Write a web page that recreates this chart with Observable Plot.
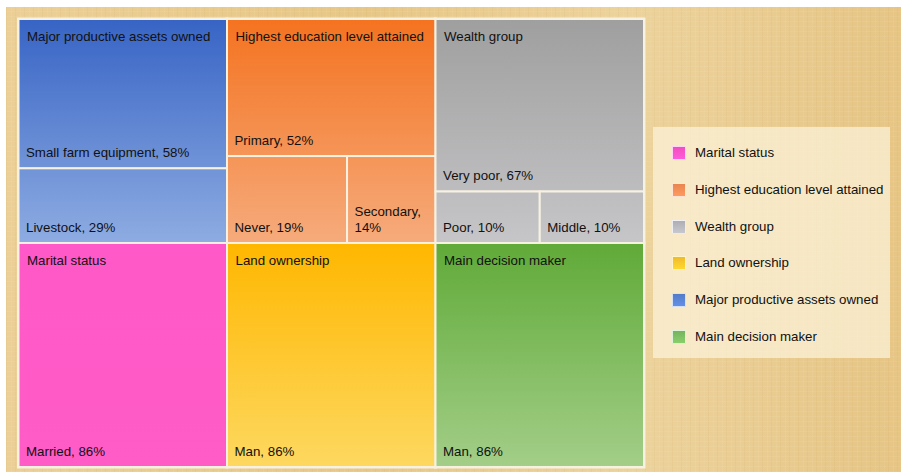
<!DOCTYPE html>
<html>
<head>
<meta charset="utf-8">
<script src="https://cdn.jsdelivr.net/npm/d3@7"></script>
<script src="https://cdn.jsdelivr.net/npm/@observablehq/plot@0.6"></script>
<style>
  html, body { margin: 0; padding: 0; background: #ffffff; }
  body { width: 901px; height: 473px; position: relative; overflow: hidden; font-family: "Liberation Sans", Arial, Helvetica, sans-serif; }
  #paper {
    position: absolute; left: 6px; top: 7px; width: 895px; height: 465px;
    background:
      repeating-linear-gradient(90deg, rgba(190,145,60,0.07) 0 1px, transparent 1px 5px, rgba(255,245,215,0.07) 5px 6px, transparent 6px 9px),
      repeating-linear-gradient(0deg, rgba(255,245,215,0.08) 0 1px, transparent 1px 5px),
      linear-gradient(90deg, #ebcf96, #e7c787 40%, #ecd29c 70%, #e6c585);
  }
  #chart { position: absolute; left: 0; top: 0; }
  #legend {
    position: absolute; left: 653px; top: 127px; width: 237px; height: 231px;
    background: rgba(252,242,218,0.72); box-sizing: border-box;
  }
  .item { position: absolute; left: 19px; height: 14px; font-size: 13.3px; color: #111; white-space: nowrap; }
  .sw { position: absolute; left: 0; top: 0; width: 12px; height: 12px; border: 1px solid rgba(255,255,255,0.75); box-sizing: content-box; }
  .lab { position: absolute; left: 23px; top: -1px; line-height: 16px; }
</style>
</head>
<body>
<div id="paper"></div>
<div id="chart"></div>
<div id="legend"></div>
<script>
// ---- data ----
const groupNames = [
  "Major productive assets owned",
  "Highest education level attained",
  "Wealth group",
  "Marital status",
  "Land ownership",
  "Main decision maker"
];
const childGroups = [
  "Major productive assets owned", "Major productive assets owned",
  "Highest education level attained", "Highest education level attained", "Highest education level attained",
  "Wealth group", "Wealth group", "Wealth group",
  "Marital status", "Land ownership", "Main decision maker"
];
const childNames = ["Small farm equipment", "Livestock", "Primary", "Never", "Secondary", "Very poor", "Poor", "Middle", "Married", "Man", "Man"];
const childValues = [58, 29, 52, 19, 14, 67, 10, 10, 86, 86, 86];
const legendOrder = ["Marital status", "Highest education level attained", "Wealth group", "Land ownership", "Major productive assets owned", "Main decision maker"];

// ---- styles (separate from data) ----
const groupTop = {
  "Major productive assets owned": "#3764c5",
  "Highest education level attained": "#f47320",
  "Wealth group": "#9f9f9f",
  "Marital status": "#ff58c8",
  "Land ownership": "#ffb700",
  "Main decision maker": "#60aa38"
};
const groupBottom = {
  "Major productive assets owned": "#8eace2",
  "Highest education level attained": "#f6ab7c",
  "Wealth group": "#c6c6c8",
  "Marital status": "#ff5cc6",
  "Land ownership": "#fdd860",
  "Main decision maker": "#a3ce88"
};
const legendSwatch = {
  "Marital status": "#ff52c8",
  "Highest education level attained": "#f58d55",
  "Wealth group": "#b6b7bd",
  "Land ownership": "#fcc52c",
  "Major productive assets owned": "#5a83d3",
  "Main decision maker": "#7dbd62"
};

// ---- layout in unit coordinates (group grid, first child on top, rest side by side) ----
const groups = groupNames.map((g, i) => {
  const col = i % 3, row = Math.floor(i / 3);
  return {name: g, x1: col / 3, x2: (col + 1) / 3, y1: row / 2, y2: (row + 1) / 2};
});
const cells = [];
for (const g of groups) {
  const idx = childNames.map((_, i) => i).filter(i => childGroups[i] === g.name);
  const total = d3.sum(idx, i => childValues[i]);
  const gh = g.y2 - g.y1;
  const firstH = idx.length === 1 ? gh : gh * childValues[idx[0]] / total;
  cells.push({i: idx[0], group: g.name, x1: g.x1, x2: g.x2, y1: g.y1, y2: g.y1 + firstH});
  const rest = idx.slice(1);
  const restTotal = d3.sum(rest, i => childValues[i]);
  let x = g.x1;
  for (const i of rest) {
    const w = (g.x2 - g.x1) * childValues[i] / restTotal;
    cells.push({i, group: g.name, x1: x, x2: x + w, y1: g.y1 + firstH, y2: g.y2});
    x += w;
  }
}
cells.forEach((c, k) => {
  c.id = "grad" + k;
  const g = groups.find(d => d.name === c.group);
  c.t1 = (c.y1 - g.y1) / (g.y2 - g.y1);
  c.t2 = (c.y2 - g.y1) / (g.y2 - g.y1);
  const pxW = (c.x2 - c.x1) * 626;
  const raw = childNames[c.i] + ", " + childValues[c.i] + "%";
  c.label = raw.length * 7 > pxW - 14 ? raw.replace(", ", ",\n") : raw;
});

const font = "'Liberation Sans', Arial, Helvetica, sans-serif";
const svg = Plot.plot({
  width: 901,
  height: 473,
  margin: 0,
  x: {domain: [0, 1], range: [18.5, 644], axis: null},
  y: {domain: [0, 1], range: [19, 467], axis: null},
  style: {background: "transparent", fontFamily: font, fontSize: "13.3px", color: "#111"},
  marks: [
    Plot.rect(groups, {x1: "x1", x2: "x2", y1: "y1", y2: "y2", fill: "#f7f1e2", inset: -1.5}),
    Plot.rect(cells, {x1: "x1", x2: "x2", y1: "y1", y2: "y2", fill: d => `url(#${d.id})`, stroke: "#f7f1e2", strokeWidth: 2}),
    Plot.text(groups, {x: "x1", y: "y1", text: "name", textAnchor: "start", lineAnchor: "top", dx: 8, dy: 12, fontSize: 13.3, fill: "#111"}),
    Plot.text(cells, {x: "x1", y: "y2", text: "label", textAnchor: "start", lineAnchor: "bottom", dx: 7, dy: -12, fontSize: 13.3, lineHeight: 1.2, fill: "#111"})
  ]
});

const ns = "http://www.w3.org/2000/svg";
const defs = document.createElementNS(ns, "defs");
for (const c of cells) {
  const lg = document.createElementNS(ns, "linearGradient");
  lg.setAttribute("id", c.id);
  lg.setAttribute("x1", "0"); lg.setAttribute("y1", "0");
  lg.setAttribute("x2", "0"); lg.setAttribute("y2", "1");
  const interp = d3.interpolateRgb(groupTop[c.group], groupBottom[c.group]);
  [[0, c.t1], [1, c.t2]].forEach(([o, t]) => {
    const s = document.createElementNS(ns, "stop");
    s.setAttribute("offset", o);
    s.setAttribute("stop-color", interp(t));
    lg.appendChild(s);
  });
  defs.appendChild(lg);
}
svg.insertBefore(defs, svg.firstChild);
document.getElementById("chart").appendChild(svg);

// ---- legend ----
const legend = document.getElementById("legend");
legendOrder.forEach((name, k) => {
  const item = document.createElement("div");
  item.className = "item";
  item.style.top = (19 + k * 36.8) + "px";
  const sw = document.createElement("div");
  sw.className = "sw";
  const base = d3.color(legendSwatch[name]);
  sw.style.background = `linear-gradient(${base.darker(0.15)}, ${base.brighter(0.25)})`;
  const lab = document.createElement("span");
  lab.className = "lab";
  lab.textContent = name;
  item.appendChild(sw);
  item.appendChild(lab);
  legend.appendChild(item);
});
</script>
</body>
</html>
